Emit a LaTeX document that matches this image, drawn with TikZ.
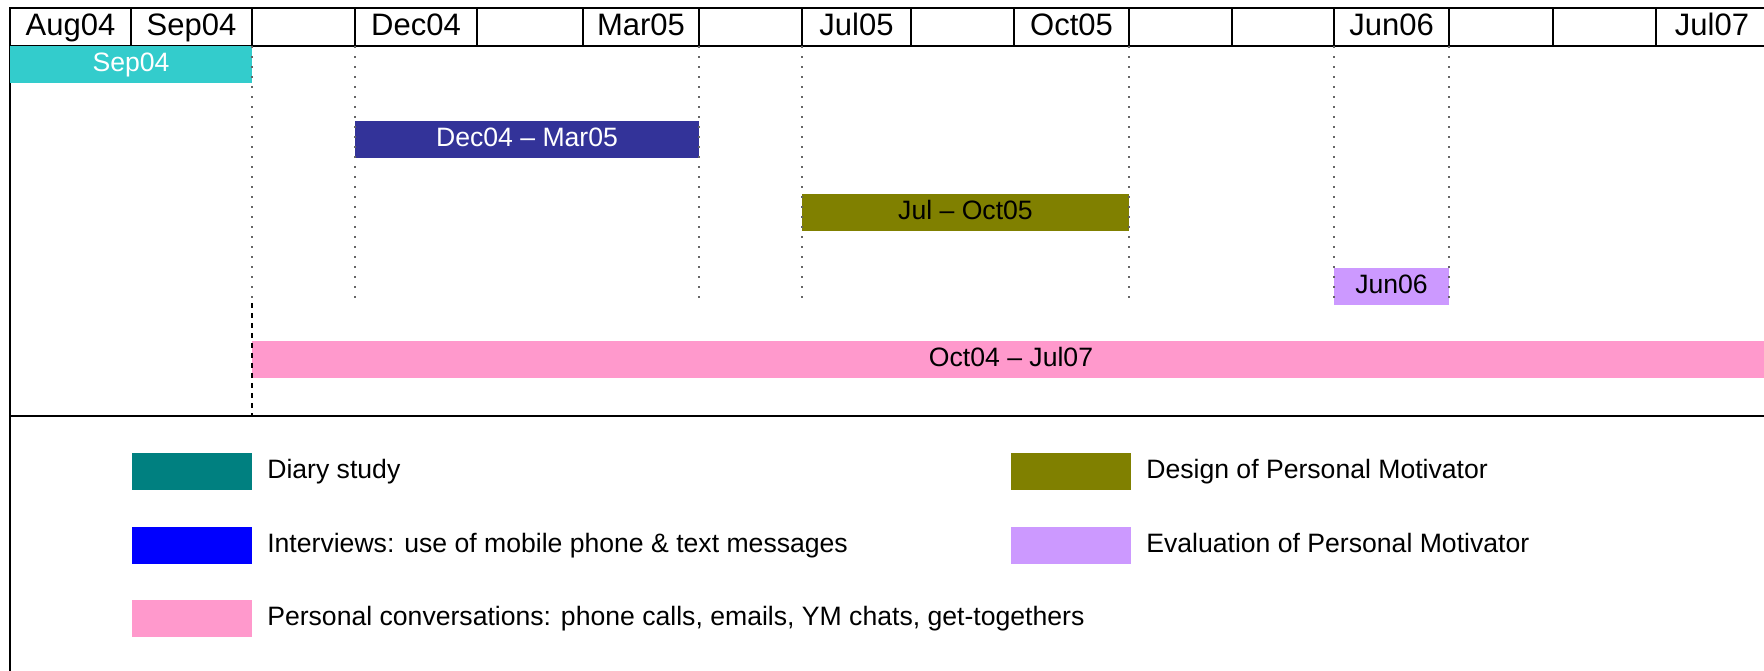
\documentclass[tikz,border=0pt]{standalone}
\usepackage{fontspec}
\setmainfont{Liberation Sans}
\usetikzlibrary{positioning}

\definecolor{diarycyan}{HTML}{33CCCC}
\definecolor{diaryteal}{HTML}{008080}
\definecolor{interblue}{HTML}{333399}
\definecolor{keyblue}{HTML}{0000FF}
\definecolor{designolive}{HTML}{808000}
\definecolor{evallilac}{HTML}{CC99FF}
\definecolor{talkpink}{HTML}{FF99CC}

\begin{document}
\begin{tikzpicture}[x=0.5pt,y=-0.5pt,
	rule/.style={line width=1.1pt},
	guide/.style={black!60,line width=0.8pt,dash pattern=on 0.8pt off 4.2pt},
	cut/.style={line width=1pt,dash pattern=on 2.5pt off 2.5pt},
	month/.style={inner sep=0,text height=.72em,text depth=0pt,font=\fontsize{15.5}{18}\selectfont},
	bar/.style={inner sep=0,minimum height=18.5pt,text height=.72em,text depth=0pt,font=\fontsize{13.3}{16}\selectfont},
	key/.style={inner sep=0,minimum width=60pt,minimum height=18.5pt},
	keytext/.style={inner sep=0,anchor=west,text height=.72em,text depth=0pt,font=\fontsize{13.3}{16}\selectfont}]
	\useasboundingbox (0,0) rectangle (1764,670);

	% month row
	\foreach \a/\b/\lab [count=\i] in {10/131/Aug04,131/252/Sep04,252/355/,355/477/Dec04,477/583/,583/699/Mar05,699/802/,802/911/Jul05,911/1014/,1014/1129/Oct05,1129/1232/,1232/1334/,1334/1449/Jun06,1449/1553/,1553/1656/,1656/1768/Jul07}
	{
		\node[month] (h\i) at ({(\a+\b)/2},28) {\lab};
		\coordinate (g\i) at (\b,46);
		\coordinate (e\i) at (\b,300);
		\draw[rule] (\b,8) -- (g\i);
	}
	\coordinate (tl) at (10,8);
	\coordinate (hl) at (10,46);
	\coordinate (rl) at (10,416);
	\draw[rule] (1770,8) -- (tl) -- (10,675);
	\draw[rule] (hl) -- (1770,46);
	\draw[rule] (rl) -- (1770,416);

	% bars
	\node[bar,fill=diarycyan,text=white,minimum width=121pt] (sepbar) at (131,64.5) {Sep04};
	\node[bar,fill=interblue,text=white,minimum width=172pt] (decbar) at (527,139) {Dec04 -- Mar05};
	\node[bar,fill=designolive,minimum width=163.5pt] (julbar) at (965.5,212.5) {Jul -- Oct05};
	\node[bar,fill=evallilac,minimum width=57.5pt] (junbar) at (1391.5,286) {Jun06};
	\node[bar,fill=talkpink,minimum width=759pt] (octbar) at (1011,359.5) {Oct04 -- Jul07};

	% guides
	\foreach \i in {2,3,6,7,10,12,13}
		\draw[guide] (g\i) -- (e\i);
	\draw[cut] (e2) ++(0,3) -- (e2 |- rl);

	% legend
	\node[key,fill=diaryteal] (kdiary) at (191.5,471.5) {};
	\node[key,fill=keyblue] (kinter) at (191.5,545) {};
	\node[key,fill=talkpink] (ktalk) at (191.5,618.5) {};
	\node[key,fill=designolive] (kdesign) at (1070.5,471.5) {};
	\node[key,fill=evallilac] (keval) at (1070.5,545) {};
	\node[keytext] (tdiary) [right=7.5pt of kdiary] {Diary study};
	\node[keytext] (tinter) [right=7.5pt of kinter] {Interviews: use of mobile phone \& text messages};
	\node[keytext] (ttalk) [right=7.5pt of ktalk] {Personal conversations: phone calls, emails, YM chats, get-togethers};
	\node[keytext] (tdesign) [right=7.5pt of kdesign] {Design of Personal Motivator};
	\node[keytext] (teval) [right=7.5pt of keval] {Evaluation of Personal Motivator};
\end{tikzpicture}
\end{document}
